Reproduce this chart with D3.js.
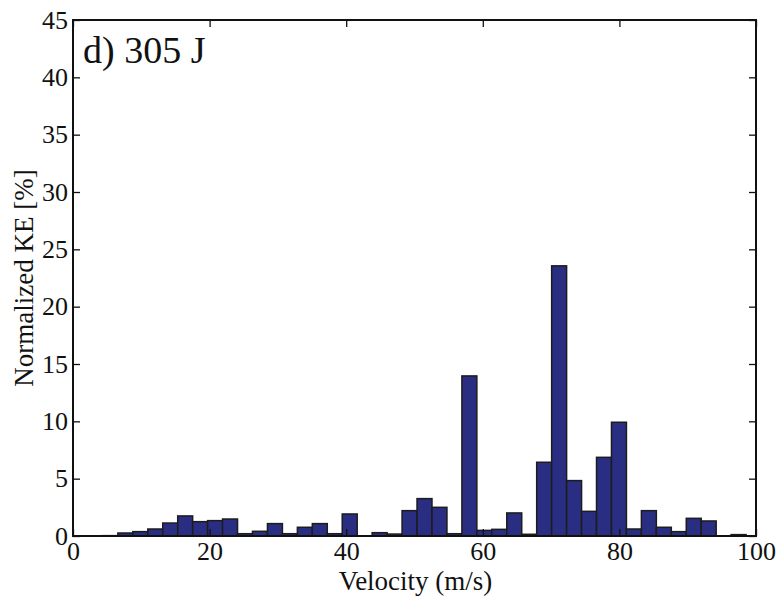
<!DOCTYPE html>
<html>
<head>
<meta charset="utf-8">
<script src="https://cdn.jsdelivr.net/npm/d3@7/dist/d3.min.js"></script>
<style>
  html, body { margin: 0; padding: 0; background: #fff; }
  svg { display: block; }
</style>
</head>
<body>
<svg id="chart" width="776" height="596"></svg>
<script>
// Histogram bin edges (velocity, m/s)
const binEdges = [0, 2.19, 4.38, 6.57, 8.76, 10.95, 13.14, 15.33, 17.52, 19.71,
  21.90, 24.09, 26.28, 28.47, 30.66, 32.85, 35.04, 37.23, 39.42, 41.61,
  43.80, 45.99, 48.18, 50.37, 52.56, 54.75, 56.94, 59.13, 61.32, 63.51,
  65.70, 67.89, 70.08, 72.27, 74.46, 76.65, 78.84, 81.03, 83.22, 85.41,
  87.60, 89.79, 91.98, 94.17, 96.36, 98.55];

// Normalized kinetic energy per bin [%]
const keValues = [0, 0.02, 0.03, 0.26, 0.38, 0.61, 1.13, 1.75, 1.25, 1.34,
  1.48, 0.20, 0.41, 1.08, 0.20, 0.76, 1.08, 0.20, 1.92, 0.02,
  0.29, 0.17, 2.21, 3.26, 2.50, 0.20, 13.96, 0.49, 0.58, 2.01,
  0.15, 6.43, 23.56, 4.83, 2.15, 6.86, 9.92, 0.61, 2.21, 0.76,
  0.38, 1.54, 1.31, 0, 0.12];

const xTicks = [0, 20, 40, 60, 80, 100];
const yTicks = [0, 5, 10, 15, 20, 25, 30, 35, 40, 45];

const panelTitle = "d) 305 J";
const xLabel = "Velocity (m/s)";
const yLabel = "Normalized KE [%]";

const SERIF = "'Liberation Serif', 'Times New Roman', Times, 'DejaVu Serif', serif";

const W = 776, H = 596;
const margin = { left: 73, top: 20, right: 20, bottom: 60 };
const iw = W - margin.left - margin.right;
const ih = H - margin.top - margin.bottom;

const svg = d3.select("#chart");
svg.append("rect").attr("width", W).attr("height", H).attr("fill", "#fff");

const x = d3.scaleLinear().domain([0, 100]).range([0, iw]);
const y = d3.scaleLinear().domain([0, 45]).range([ih, 0]);

const g = svg.append("g").attr("transform", `translate(${margin.left},${margin.top})`);

// Bars
g.selectAll("rect.bar")
  .data(keValues)
  .join("rect")
  .attr("class", "bar")
  .attr("x", (d, i) => x(binEdges[i]))
  .attr("width", (d, i) => x(binEdges[i + 1]) - x(binEdges[i]))
  .attr("y", d => y(d))
  .attr("height", d => y(0) - y(d))
  .attr("fill", "#2a2e82")
  .attr("stroke", "#1c1c1c")
  .attr("stroke-width", 1.5);

const tickLen = 7;

// Bottom axis with labels, ticks pointing inward
const xAxisB = g.append("g").attr("transform", `translate(0,${ih})`)
  .call(d3.axisBottom(x).tickValues(xTicks).tickSize(-tickLen).tickPadding(6).tickFormat(d3.format("d")));
// Top axis, ticks only
const xAxisT = g.append("g")
  .call(d3.axisTop(x).tickValues(xTicks).tickSize(-tickLen).tickFormat(""));
// Left axis with labels
const yAxisL = g.append("g")
  .call(d3.axisLeft(y).tickValues(yTicks).tickSize(-tickLen).tickPadding(5).tickFormat(d3.format("d")));
// Right axis, ticks only
const yAxisR = g.append("g").attr("transform", `translate(${iw},0)`)
  .call(d3.axisRight(y).tickValues(yTicks).tickSize(-tickLen).tickFormat(""));

[xAxisB, xAxisT, yAxisL, yAxisR].forEach(ax => {
  ax.attr("font-family", SERIF).attr("font-size", 26);
  ax.select(".domain").remove();
  ax.selectAll(".tick line").attr("stroke", "#111").attr("stroke-width", 1.3);
  ax.selectAll(".tick text").attr("fill", "#111");
});

// Box around plot area
g.append("rect")
  .attr("x", 0).attr("y", 0).attr("width", iw).attr("height", ih)
  .attr("fill", "none").attr("stroke", "#111").attr("stroke-width", 2);

// Panel title
g.append("text")
  .attr("x", 10).attr("y", 43)
  .attr("font-family", SERIF)
  .attr("font-size", 38)
  .attr("fill", "#111")
  .text(panelTitle);

// Axis labels
svg.append("text")
  .attr("x", margin.left + iw / 2 + 1).attr("y", 590)
  .attr("text-anchor", "middle")
  .attr("font-family", SERIF)
  .attr("font-size", 27)
  .attr("fill", "#111")
  .text(xLabel);

svg.append("text")
  .attr("transform", `translate(33,${margin.top + ih / 2}) rotate(-90)`)
  .attr("text-anchor", "middle")
  .attr("font-family", SERIF)
  .attr("font-size", 27)
  .attr("fill", "#111")
  .text(yLabel);
</script>
</body>
</html>
